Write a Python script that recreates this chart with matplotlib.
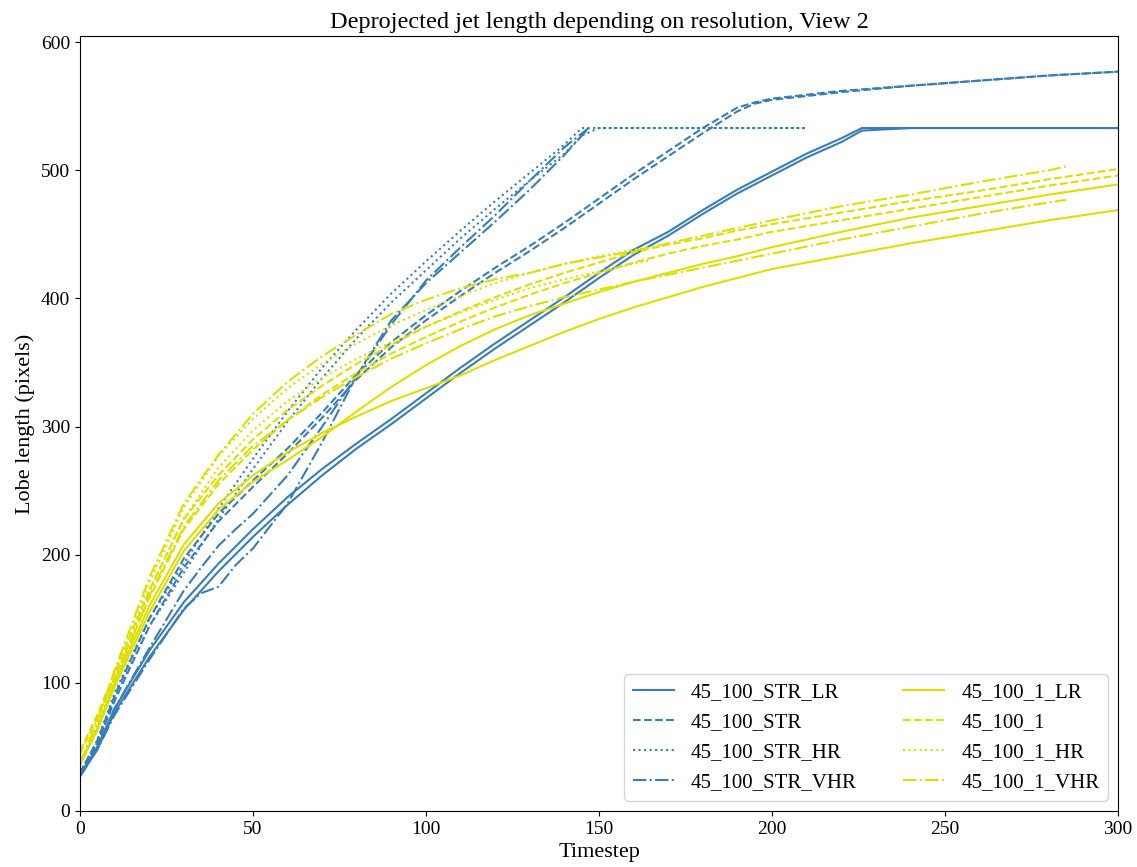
import matplotlib
matplotlib.use("Agg")
import matplotlib.pyplot as plt

plt.rcParams['font.family'] = ['Liberation Serif', 'DejaVu Serif']

BLUE = '#377eb8'
YELLOW = '#dede00'

# --- 45_100_STR_LR (two lobes)
t_str_lr = [0, 5, 10, 20, 30, 40, 50, 60, 70, 80, 90, 100, 110, 120, 130, 140, 150,
            160, 170, 180, 190, 200, 210, 220, 226, 240, 260, 280, 300]
str_lr_a = [28, 50, 80, 125, 163, 193, 220, 245, 267, 287, 306, 326, 346, 365, 383, 401, 420,
            438, 452, 469, 485, 499, 513, 525, 533, 533, 533, 533, 533]
str_lr_b = [27, 48, 77, 120, 157, 187, 214, 239, 262, 283, 302, 322, 342, 361, 379, 397, 416,
            434, 449, 466, 482, 496, 510, 522, 531, 533, 533, 533, 533]

# --- 45_100_STR
t_str = [0, 5, 10, 20, 30, 40, 50, 60, 70, 80, 90, 100, 110, 120, 130, 140, 150,
         160, 170, 180, 190, 195, 200, 210, 220, 240, 260, 280, 300]
str_a = [30, 55, 90, 150, 197, 232, 258, 283, 311, 341, 366, 387, 406, 424, 441, 459, 478,
         497, 515, 533, 549, 553, 556, 559, 562, 566, 570, 574, 577]
str_b = [29, 53, 86, 144, 190, 226, 253, 279, 307, 337, 362, 383, 402, 420, 437, 455, 474,
         493, 511, 529, 546, 552, 555, 558, 561, 566, 570, 574, 577]

# --- 45_100_STR_HR
t_str_hr = [0, 5, 10, 20, 30, 40, 50, 60, 70, 80, 90, 100, 110, 120, 130, 140, 145,
            150, 170, 190, 210]
str_hr_a = [30, 55, 92, 150, 193, 236, 275, 312, 346, 376, 404, 429, 453, 476, 498, 520, 533,
            533, 533, 533, 533]
str_hr_b = [29, 53, 88, 144, 186, 228, 267, 304, 338, 369, 397, 422, 447, 470, 492, 513, 527,
            533, 533, 533, 533]

# --- 45_100_STR_VHR
t_str_vhr = [0, 5, 10, 20, 30, 35, 40, 45, 50, 60, 70, 80, 90, 100, 110, 120, 130, 140, 147]
str_vhr_a = [28, 50, 80, 127, 172, 190, 207, 220, 232, 262, 300, 340, 380, 414, 440, 465, 492, 518, 533]
str_vhr_b = [27, 48, 75, 118, 158, 170, 175, 192, 205, 240, 288, 340, 383, 412, 436, 460, 485, 512, 533]

# --- 45_100_1_LR and 45_100_1 share timesteps
t_1 = [0, 5, 10, 20, 30, 40, 50, 60, 70, 80, 90, 100, 110, 120, 130, 140, 150,
       160, 170, 180, 190, 200, 220, 240, 260, 280, 300]
one_lr_a = [37, 63, 97, 155, 203, 235, 257, 274, 292, 312, 331, 348, 363, 376, 387, 396, 405,
            413, 420, 427, 433, 440, 452, 463, 472, 481, 489]
one_lr_b = [37, 65, 100, 160, 208, 240, 262, 280, 295, 308, 320, 330, 340, 352, 363, 374, 384,
            393, 401, 409, 416, 423, 433, 443, 452, 461, 469]
one_a = [47, 75, 108, 172, 228, 262, 290, 313, 332, 349, 364, 378, 390, 401, 411, 420, 428,
         436, 442, 447, 453, 458, 467, 476, 484, 493, 501]
one_b = [45, 72, 104, 166, 220, 255, 282, 305, 325, 342, 357, 370, 382, 393, 403, 412, 420,
         428, 435, 441, 446, 452, 461, 470, 479, 488, 496]

# --- 45_100_1_HR
t_1_hr = [0, 5, 10, 20, 30, 40, 50, 60, 70, 80, 90, 100, 110, 120, 130, 140, 150, 160, 165]
one_hr_a = [38, 68, 105, 178, 237, 277, 306, 330, 349, 365, 379, 391, 402, 412, 420, 427, 433, 438, 440]
one_hr_b = [37, 66, 102, 172, 228, 268, 297, 320, 338, 353, 366, 378, 389, 399, 408, 415, 421, 427, 430]

# --- 45_100_1_VHR
t_1_vhr = [0, 5, 10, 20, 30, 40, 50, 60, 70, 80, 90, 100, 110, 120, 130, 140, 150,
           160, 180, 200, 220, 240, 260, 280, 285]
one_vhr_a = [38, 70, 110, 182, 240, 278, 310, 335, 355, 372, 388, 399, 408, 415, 420, 427, 432,
             437, 449, 461, 472, 481, 491, 500, 503]
one_vhr_b = [36, 64, 100, 168, 222, 258, 285, 305, 323, 339, 353, 365, 376, 386, 394, 401, 407,
             413, 424, 435, 446, 456, 466, 475, 477]

runs = [
    ('45_100_STR_LR', t_str_lr, str_lr_a, str_lr_b, BLUE, '-'),
    ('45_100_STR', t_str, str_a, str_b, BLUE, '--'),
    ('45_100_STR_HR', t_str_hr, str_hr_a, str_hr_b, BLUE, ':'),
    ('45_100_STR_VHR', t_str_vhr, str_vhr_a, str_vhr_b, BLUE, '-.'),
    ('45_100_1_LR', t_1, one_lr_a, one_lr_b, YELLOW, '-'),
    ('45_100_1', t_1, one_a, one_b, YELLOW, '--'),
    ('45_100_1_HR', t_1_hr, one_hr_a, one_hr_b, YELLOW, ':'),
    ('45_100_1_VHR', t_1_vhr, one_vhr_a, one_vhr_b, YELLOW, '-.'),
]

fig, ax = plt.subplots(figsize=(11.37, 8.67), dpi=100)
fig.subplots_adjust(left=0.0704, right=0.9833, bottom=0.0646, top=0.958)

for name, t, a, b, col, ls in runs:
    ax.plot(t, a, color=col, ls=ls, lw=1.5, label=name)
    ax.plot(t, b, color=col, ls=ls, lw=1.5)

ax.set_xlim(0, 300)
ax.set_ylim(bottom=0)
ax.set_xlabel('Timestep', fontsize=16, labelpad=4)
ax.set_ylabel('Lobe length (pixels)', fontsize=16, labelpad=4)
ax.set_title('Deprojected jet length depending on resolution, View 2', fontsize=17.5)
ax.tick_params(labelsize=14)
ax.legend(loc='lower right', ncol=2, fontsize=15, columnspacing=2.2)

fig.savefig('out.png')
